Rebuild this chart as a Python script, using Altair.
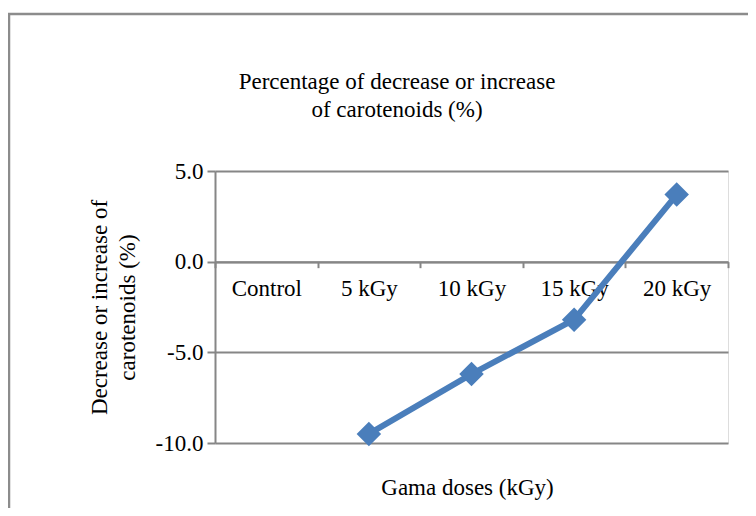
import altair as alt
import pandas as pd

# ---- data ----
categories = ["Control", "5 kGy", "10 kGy", "15 kGy", "20 kGy"]
dose_labels = ["5 kGy", "10 kGy", "15 kGy", "20 kGy"]
change_pct = [-9.5, -6.2, -3.2, 3.7]
y_ticks = [-10, -5, 0, 5]
title_lines = ["Percentage of decrease or increase", "of carotenoids (%)"]
y_title_lines = ["Decrease or increase of", "carotenoids (%)"]
x_title = "Gama doses (kGy)"

df = pd.DataFrame({"dose": dose_labels, "change": change_pct})

FONT = "Liberation Serif"
FS = 23
GRAY = "#868686"
BLUE = "#4a7ebb"
W, H = 513, 272
ymin, ymax = -10, 5
zero_from_bottom = H * (0 - ymin) / (ymax - ymin)

x_enc = alt.X(
    "dose:N",
    sort=categories,
    scale=alt.Scale(type="band", domain=categories, paddingInner=0, paddingOuter=0),
    axis=alt.Axis(
        title=x_title,
        orient="bottom",
        offset=-zero_from_bottom,
        tickBand="extent",
        domain=True, domainColor=GRAY, domainWidth=2,
        ticks=True, tickColor=GRAY, tickWidth=2, tickSize=6,
        labelPadding=10, labelFont=FONT, labelFontSize=FS, labelColor="black",
        labelAngle=0, labelOverlap=False,
        grid=False,
        titleFont=FONT, titleFontSize=FS, titleFontWeight="normal", titleColor="black",
        titleX=252, titleY=233, titleBaseline="alphabetic", titleAlign="center",
    ),
)

y_enc = alt.Y(
    "change:Q",
    scale=alt.Scale(domain=[ymin, ymax], nice=False, zero=False),
    axis=alt.Axis(
        values=y_ticks,
        labelExpr="(datum.value < 0 ? '-' : '') + format(abs(datum.value), '.1f')",
        title=y_title_lines,
        grid=True, gridColor=GRAY, gridWidth=2, gridOpacity=1,
        domain=True, domainColor=GRAY, domainWidth=2,
        ticks=True, tickSize=8, tickColor=GRAY, tickWidth=2,
        labelPadding=4, labelFont=FONT, labelFontSize=FS, labelColor="black",
        titleFont=FONT, titleFontSize=FS, titleFontWeight="normal", titleColor="black",
        titleX=-116, titleY=136, titleBaseline="middle", titleAlign="center",
        titleLineHeight=28,
    ),
)

frame = alt.Chart(alt.Data(values=[{"f": 1}])).mark_rect(
    filled=False, stroke="#8c8c8c", strokeWidth=2.5, clip=False
).encode(
    x=alt.value(-206), y=alt.value(-157), x2=alt.value(900), y2=alt.value(900)
)

line = alt.Chart(df).mark_line(color=BLUE, strokeWidth=6).encode(x=x_enc, y=y_enc)
points = alt.Chart(df).mark_point(
    shape="diamond", filled=True, size=600, color=BLUE, opacity=1
).encode(x=alt.X("dose:N", sort=categories), y="change:Q")

chart = alt.layer(frame, line, points).properties(
    width=W,
    height=H,
    autosize=alt.AutoSizeParams(type="none"),
    padding={"left": 207, "top": 163, "right": 20, "bottom": 65},
    title=alt.TitleParams(
        text=title_lines, font=FONT, fontSize=FS, fontWeight="normal", color="black",
        anchor="middle", frame="group", dx=-74.5, offset=-109, lineHeight=28,
    ),
).configure_view(strokeWidth=0).configure(background="white")

chart.save("out.html", embed_options={"renderer": "svg", "actions": False})
